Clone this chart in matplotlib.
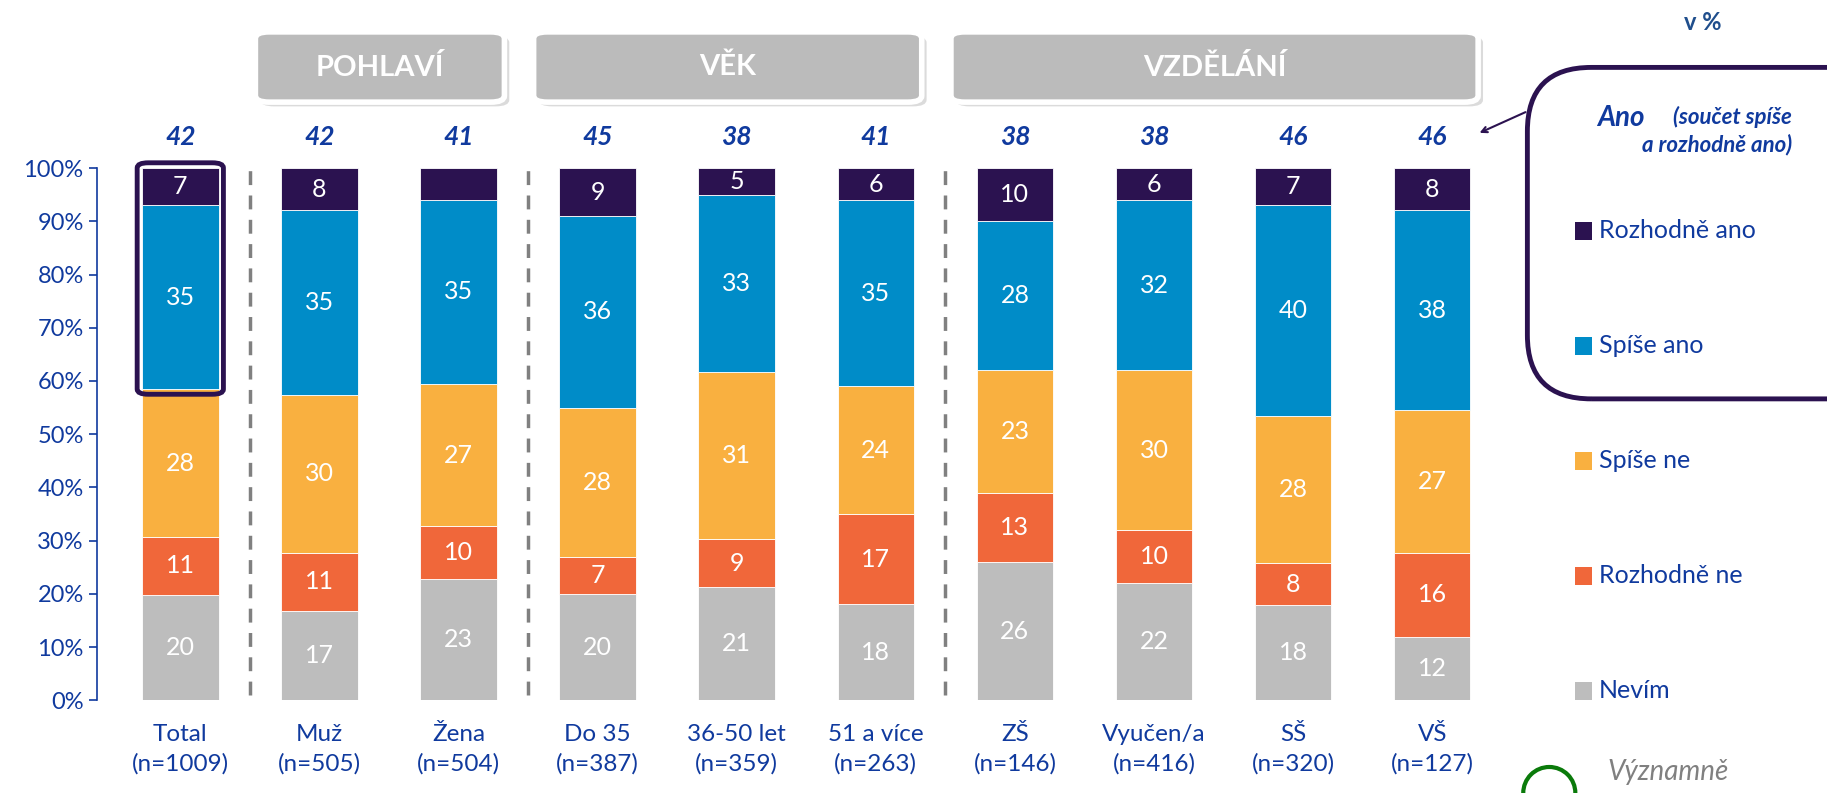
import matplotlib.pyplot as plt
from matplotlib.patches import FancyBboxPatch, Rectangle, Ellipse
import numpy as np

plt.switch_backend('Agg')
plt.rcParams['font.family'] = ['Lato', 'DejaVu Sans']

# Data
categories = ['Total\n(n=1009)', 'Muž\n(n=505)', 'Žena\n(n=504)', 'Do 35\n(n=387)',
              '36-50 let\n(n=359)', '51 a více\n(n=263)', 'ZŠ\n(n=146)',
              'Vyučen/a\n(n=416)', 'SŠ\n(n=320)', 'VŠ\n(n=127)']
nevim        = [20, 17, 23, 20, 21, 18, 26, 22, 18, 12]
rozhodne_ne  = [11, 11, 10, 7, 9, 17, 13, 10, 8, 16]
spise_ne     = [28, 30, 27, 28, 31, 24, 23, 30, 28, 27]
spise_ano    = [35, 35, 35, 36, 33, 35, 28, 32, 40, 38]
rozhodne_ano = [7, 8, 6, 9, 5, 6, 10, 6, 7, 8]
ano_total    = [42, 42, 41, 45, 38, 41, 38, 38, 46, 46]
hidden_labels = [(4, 2)]  # (series index, bar index) with no label in original

series = [nevim, rozhodne_ne, spise_ne, spise_ano, rozhodne_ano]
series_names = ['Nevím', 'Rozhodně ne', 'Spíše ne', 'Spíše ano', 'Rozhodně ano']
colors = ['#BDBDBD', '#F0673A', '#F9B040', '#008CC8', '#2B1250']

groups = [('POHLAVÍ', 1, 2), ('VĚK', 3, 5), ('VZDĚLÁNÍ', 6, 9)]
separators = [0.5, 2.5, 5.5]

BLUE = '#103A9E'

fig = plt.figure(figsize=(18.27, 7.93), dpi=100)
ax = fig.add_axes([0.053, 0.117, 0.769, 0.671])

x = np.arange(len(categories))
data = np.array(series, dtype=float)
norm = data / data.sum(axis=0) * 100
bottom = np.zeros(len(categories))
for i, (vals, c) in enumerate(zip(norm, colors)):
    ax.bar(x, vals, bottom=bottom, width=0.55, color=c, edgecolor='white', linewidth=0.6)
    for j in range(len(x)):
        if (i, j) in hidden_labels:
            continue
        ax.text(x[j], bottom[j] + vals[j] / 2, str(series[i][j]), ha='center', va='center',
                color='white', fontsize=18)
    bottom += vals

for j in range(len(x)):
    ax.text(x[j], 105.8, str(ano_total[j]), ha='center', va='center', color=BLUE,
            fontsize=19, fontweight='bold', fontstyle='italic', clip_on=False)

for s in separators:
    ax.plot([s, s], [1, 101], color='#808080', lw=2.5, dashes=(4, 3), clip_on=False)

# highlight on Total
ax.add_patch(FancyBboxPatch((-0.31, 57.5), 0.62, 43.5,
                            boxstyle='round,pad=0,rounding_size=0.08',
                            mutation_aspect=12, fill=False, edgecolor='#2B1250',
                            lw=3.5, clip_on=False, zorder=5))

# group header boxes
for name, a, b in groups:
    x0, x1 = a - 0.46, b + 0.33
    ax.add_patch(FancyBboxPatch((x0 + 0.035, 111.6), x1 - x0, 13.2,
                                boxstyle='round,pad=0,rounding_size=0.1', mutation_aspect=12,
                                facecolor='#999999', edgecolor='none', alpha=0.35,
                                clip_on=False))
    ax.add_patch(FancyBboxPatch((x0, 112.4), x1 - x0, 13.2,
                                boxstyle='round,pad=0,rounding_size=0.1', mutation_aspect=12,
                                facecolor='#BBBBBB', edgecolor='white', lw=4,
                                clip_on=False))
    ax.text((x0 + x1) / 2, 119.0, name, ha='center', va='center', color='white',
            fontsize=21, fontweight='bold', clip_on=False)

ax.set_xlim(-0.6, 9.5)
ax.set_ylim(0, 100)
ax.set_xticks(x)
ax.set_xticklabels(categories, fontsize=17.5, color=BLUE, linespacing=1.45)
ax.tick_params(axis='x', length=0, pad=17)
ax.set_yticks(np.arange(0, 101, 10))
ax.set_yticklabels([f'{v}%' for v in range(0, 101, 10)], fontsize=17, color=BLUE)
ax.tick_params(axis='y', colors=BLUE, length=6, width=1.2, labelcolor=BLUE)
for sp in ['top', 'right', 'bottom']:
    ax.spines[sp].set_visible(False)
ax.spines['left'].set_color(BLUE)
ax.spines['left'].set_linewidth(1.2)

# legend panel
fig.patches.append(FancyBboxPatch((0.836, 0.497), 0.2, 0.418, transform=fig.transFigure,
                                  boxstyle='round,pad=0,rounding_size=0.035',
                                  mutation_aspect=2.3, fill=False,
                                  edgecolor='#2B1250', lw=3.5))
ax.annotate('', xy=(1477, 793 - 134), xycoords='figure pixels',
            xytext=(1528, 793 - 111), textcoords='figure pixels',
            arrowprops=dict(arrowstyle='->', color='#2B1250', lw=1.5))
fig.text(0.874, 0.851, 'Ano', color=BLUE, fontsize=20, fontweight='bold',
         fontstyle='italic', ha='left', va='center')
fig.text(0.981, 0.853, '(součet spíše', color=BLUE, fontsize=16, fontweight='bold',
         fontstyle='italic', ha='right', va='center')
fig.text(0.981, 0.818, 'a rozhodně ano)', color=BLUE, fontsize=16, fontweight='bold',
         fontstyle='italic', ha='right', va='center')

legend_y = [0.129, 0.274, 0.419, 0.564, 0.709]
for name, c, ly in zip(series_names, colors, legend_y):
    fig.patches.append(Rectangle((0.862, ly - 0.0115), 0.0095, 0.022,
                                 transform=fig.transFigure, facecolor=c, edgecolor='none'))
    fig.text(0.875, ly, name, color=BLUE, fontsize=18, ha='left', va='center')

fig.text(0.932, 0.972, 'v %', color='#1F4E8C', fontsize=17, fontweight='bold',
         ha='center', va='center')

fig.patches.append(Ellipse((0.848, 0.0), 0.0285, 0.0656, transform=fig.transFigure,
                           fill=False, edgecolor='#0A7A0A', lw=3))
fig.text(0.880, 0.026, 'Významně', color='#808080', fontsize=20, fontstyle='italic',
         ha='left', va='center')

fig.savefig('out.png', dpi=100)
